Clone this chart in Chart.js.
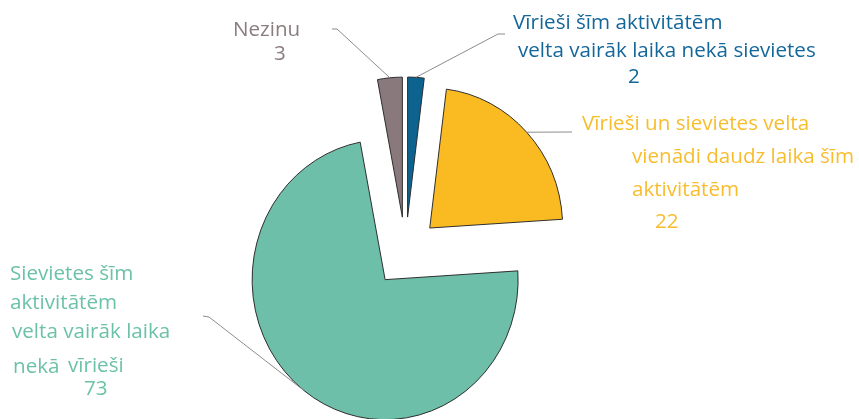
<!DOCTYPE html>
<html>
<head>
<meta charset="utf-8">
<script src="https://cdn.jsdelivr.net/npm/chart.js@4"></script>
<style>
  html, body { margin: 0; padding: 0; background: #fff; }
  #wrap { width: 859px; height: 419px; }
</style>
</head>
<body>
<div id="wrap"><canvas id="pieChart" width="859" height="419"></canvas></div>
<script>
// data
const categories = [
  "Vīrieši šīm aktivitātēm velta vairāk laika nekā sievietes",
  "Vīrieši un sievietes velta vienādi daudz laika šīm aktivitātēm",
  "Sievietes šīm aktivitātēm velta vairāk laika nekā vīrieši",
  "Nezinu"
];
const values = [2, 22, 73, 3];

const sliceColors = ["#0d6390", "#f9bb21", "#6dbfa9", "#89797c"];
const textColors = ["#14679a", "#f8bd2c", "#6cc2a8", "#8a7c7f"];

// label layout: wrapped lines as placed in the original, value line under them
const labelLayout = [
  { lines: [["Vīrieši šīm aktivitātēm", 513, 29], ["velta vairāk laika nekā sievietes", 518, 57]],
    value: [628, 83], leader: [[505, 34], [498, 34]] },
  { lines: [["Vīrieši un sievietes velta", 582, 130], ["vienādi daudz laika šīm", 632, 163], ["aktivitātēm", 632, 196]],
    value: [655, 228], leader: [[572, 132]] },
  { lines: [["Sievietes šīm", 10, 280], ["aktivitātēm", 10, 309], ["velta vairāk laika", 12, 338], ["nekā", 13, 373], ["vīrieši", 68, 372]],
    value: [84, 395], leader: [[203, 316], [209, 317]] },
  { lines: [["Nezinu", 233, 36]],
    value: [274, 60], leader: [[332, 29], [337, 29]] }
];

const RADIUS = 140;
const SLICE_SHIFT = 35; // how far each slice is pulled out
const X_SQUEEZE = 0.95; // the original pie is a little narrower than tall

function pieCentre(chart) {
  const area = chart.chartArea;
  return [(area.left + area.right) / 2, (area.top + area.bottom) / 2];
}

// pull every slice out from the centre along its middle angle
const explode = {
  id: "explode",
  beforeDatasetsDraw(chart) {
    const [cx, cy] = pieCentre(chart);
    chart.getDatasetMeta(0).data.forEach((arc) => {
      const mid = (arc.startAngle + arc.endAngle) / 2;
      arc.x = cx + Math.cos(mid) * SLICE_SHIFT;
      arc.y = cy + Math.sin(mid) * SLICE_SHIFT;
    });
    const ctx = chart.ctx;
    ctx.save();
    ctx.translate(cx, cy);
    ctx.scale(X_SQUEEZE, 1);
    ctx.translate(-cx, -cy);
  },
  afterDatasetsDraw(chart) {
    chart.ctx.restore();
  }
};

// draws the data labels and their leader lines
const leaderLabels = {
  id: "leaderLabels",
  afterDraw(chart) {
    const ctx = chart.ctx;
    const [cx] = pieCentre(chart);
    const arcs = chart.getDatasetMeta(0).data;
    ctx.save();
    arcs.forEach((arc, i) => {
      const lay = labelLayout[i];
      const mid = (arc.startAngle + arc.endAngle) / 2;
      const ex = cx + (arc.x + Math.cos(mid) * arc.outerRadius - cx) * X_SQUEEZE;
      const ey = arc.y + Math.sin(mid) * arc.outerRadius;

      ctx.strokeStyle = "#8c8c8c";
      ctx.lineWidth = 1;
      ctx.beginPath();
      ctx.moveTo(lay.leader[0][0], lay.leader[0][1]);
      for (let k = 1; k < lay.leader.length; k++) ctx.lineTo(lay.leader[k][0], lay.leader[k][1]);
      ctx.lineTo(ex, ey);
      ctx.stroke();

      ctx.fillStyle = textColors[i];
      ctx.font = "20.6px 'Open Sans'";
      ctx.textAlign = "left";
      ctx.textBaseline = "alphabetic";
      lay.lines.forEach((ln) => ctx.fillText(ln[0], ln[1], ln[2]));
      ctx.fillText(String(values[i]), lay.value[0], lay.value[1]);
    });
    ctx.restore();
  }
};

new Chart(document.getElementById("pieChart"), {
  type: "pie",
  data: {
    labels: categories,
    datasets: [{
      data: values,
      backgroundColor: sliceColors,
      borderColor: "#2a2a2a",
      borderWidth: 1,
      offset: 0,
      hoverOffset: 0
    }]
  },
  options: {
    responsive: false,
    animation: false,
    events: [],
    radius: RADIUS,
    layout: { padding: { left: 0, right: 48, top: 85, bottom: 0 } },
    plugins: {
      legend: { display: false },
      tooltip: { enabled: false }
    }
  },
  plugins: [explode, leaderLabels]
});
</script>
</body>
</html>
